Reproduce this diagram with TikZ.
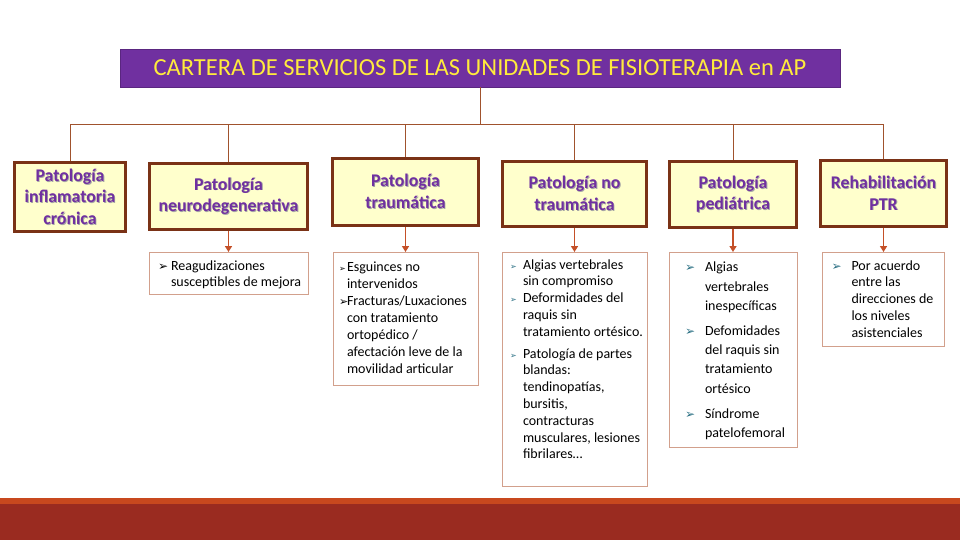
\documentclass[tikz,border=0pt]{standalone}
\usepackage{fontspec}
\setmainfont{Carlito}
\newfontfamily\dejavu{DejaVu Sans}
\usetikzlibrary{arrows.meta}
\definecolor{titlepurple}{RGB}{112,48,160}
\definecolor{titleyellow}{RGB}{255,235,60}
\definecolor{hdrborder}{RGB}{122,50,22}
\definecolor{hdrfill}{RGB}{255,255,204}
\definecolor{hdrtext}{RGB}{112,48,160}
\definecolor{busline}{RGB}{160,82,45}
\definecolor{arrowline}{RGB}{196,80,40}
\definecolor{detailborder}{RGB}{210,160,140}
\definecolor{bulletteal}{RGB}{40,110,130}
\definecolor{bandorange}{RGB}{200,72,30}
\definecolor{bandred}{RGB}{154,43,32}
\newcommand{\shd}[1]{\makebox[0pt][l]{\hspace{0.9pt}\raisebox{-0.9pt}{\color{black!35}#1}}#1}
\newcommand{\bul}[3]{\makebox[#1][l]{\dejavu\fontsize{#2}{#2}\selectfont\color{#3}➢}}
\tikzset{
	title box/.style={
		fill=titlepurple,
		draw=titlepurple!80!black,
		text=titleyellow,
		font=\fontsize{24.5}{28}\selectfont,
		inner sep=0pt
	},
	category/.style={
		draw=hdrborder,
		line width=3pt,
		fill=hdrfill,
		text=hdrtext,
		font=\fontsize{17.8}{21.5}\selectfont\bfseries,
		align=center,
		inner sep=0pt
	},
	detail/.style={
		draw=detailborder,
		line width=0.8pt,
		anchor=north,
		inner sep=0pt,
		font=\fontsize{14}{16.8}\selectfont
	},
	bus/.style={draw=busline, line width=0.9pt},
	down/.style={draw=arrowline, line width=1.6pt, -{Triangle[length=6pt,width=7pt]}},
}
\begin{document}
\begin{tikzpicture}[x=1pt,y=-1pt]
\useasboundingbox (0,0) rectangle (960,540);
\fill[bandorange] (0,498) rectangle (960,504);
\fill[bandred] (0,504) rectangle (960,540);

\node[title box, minimum width=720pt, minimum height=38pt] (cartera) at (480,68)
	{CARTERA DE SERVICIOS DE LAS UNIDADES DE FISIOTERAPIA en AP};

	\node[category, minimum width=111pt, minimum height=69pt] (inflamatoria) at (70,197)
		{\shd{Patología}\\\shd{inflamatoria}\\\shd{crónica}};
	\node[category, minimum width=158pt, minimum height=66pt] (neuro) at (228.5,196.5)
		{\shd{Patología}\\\shd{neurodegenerativa}};
	\node[category, minimum width=146pt, minimum height=67pt] (traumatica) at (405.5,192)
		{\shd{Patología}\\\shd{traumática}};
	\node[category, minimum width=144pt, minimum height=65pt] (notraumatica) at (574.5,194)
		{\shd{Patología no}\\\shd{traumática}};
	\node[category, minimum width=127pt, minimum height=66pt] (pediatrica) at (733,194.5)
		{\shd{Patología}\\\shd{pediátrica}};
	\node[category, minimum width=126pt, minimum height=66pt] (ptr) at (883.5,193.5)
		{\shd{Rehabilitación}\\\shd{PTR}};

		\node[detail] (reagudizaciones) at (228.5,252)
			{\parbox[c][42pt][t]{159pt}{\vspace{6pt}\hspace*{9pt}\begin{tabular}[t]{@{}l@{}}
			\bul{13pt}{12}{black}Reagudizaciones\\
			\hspace*{13pt}susceptibles de mejora
			\end{tabular}}};
		\node[detail, font=\fontsize{14}{17}\selectfont] (esguinces) at (405.5,252)
			{\parbox[c][133pt][t]{145pt}{\vspace{7pt}\hspace*{6pt}\begin{tabular}[t]{@{}l@{}}
			\bul{8pt}{8}{black}Esguinces no\\
			\hspace*{8pt}intervenidos\\
			\bul{8pt}{11}{black}Fracturas/Luxaciones\\
			\hspace*{8pt}con tratamiento\\
			\hspace*{8pt}ortopédico /\\
			\hspace*{8pt}afectación leve de la\\
			\hspace*{8pt}movilidad articular
			\end{tabular}}};
		\node[detail] (algias) at (574.5,252)
			{\parbox[c][234pt][t]{145pt}{\vspace{5pt}\hspace*{8pt}\begin{tabular}[t]{@{}l@{}}
			\bul{13pt}{8}{bulletteal}Algias vertebrales\\
			\hspace*{13pt}sin compromiso\\
			\bul{13pt}{8}{bulletteal}Deformidades del\\
			\hspace*{13pt}raquis sin\\
			\hspace*{13pt}tratamiento ortésico.\\[5pt]
			\bul{13pt}{8}{bulletteal}Patología de partes\\
			\hspace*{13pt}blandas:\\
			\hspace*{13pt}tendinopatías,\\
			\hspace*{13pt}bursitis,\\
			\hspace*{13pt}contracturas\\
			\hspace*{13pt}musculares, lesiones\\
			\hspace*{13pt}fibrilares…
			\end{tabular}}};
		\node[detail, font=\fontsize{14}{19.2}\selectfont] (inespecificas) at (733,252)
			{\parbox[c][195pt][t]{128pt}{\vspace{6pt}\hspace*{16pt}\begin{tabular}[t]{@{}l@{}}
			\bul{20pt}{12}{bulletteal}Algias\\
			\hspace*{20pt}vertebrales\\
			\hspace*{20pt}inespecíficas\\[6pt]
			\bul{20pt}{12}{bulletteal}Defomidades\\
			\hspace*{20pt}del raquis sin\\
			\hspace*{20pt}tratamiento\\
			\hspace*{20pt}ortésico\\[6pt]
			\bul{20pt}{12}{bulletteal}Síndrome\\
			\hspace*{20pt}patelofemoral
			\end{tabular}}};
		\node[detail] (acuerdo) at (883.5,252)
			{\parbox[c][94pt][t]{122pt}{\vspace{6pt}\hspace*{9pt}\begin{tabular}[t]{@{}l@{}}
			\bul{20pt}{12}{bulletteal}Por acuerdo\\
			\hspace*{20pt}entre las\\
			\hspace*{20pt}direcciones de\\
			\hspace*{20pt}los niveles\\
			\hspace*{20pt}asistenciales
			\end{tabular}}};

\draw[bus] (cartera.south) -- ++(0,37) coordinate (bus);
\foreach \h in {inflamatoria,neuro,traumatica,notraumatica,pediatrica,ptr}
	\draw[bus] (bus) -| (\h.north);
\foreach \h/\d in {neuro/reagudizaciones,traumatica/esguinces,notraumatica/algias,pediatrica/inespecificas,ptr/acuerdo}
	\draw[down] (\h.south) -- (\d.north);
\end{tikzpicture}
\end{document}
